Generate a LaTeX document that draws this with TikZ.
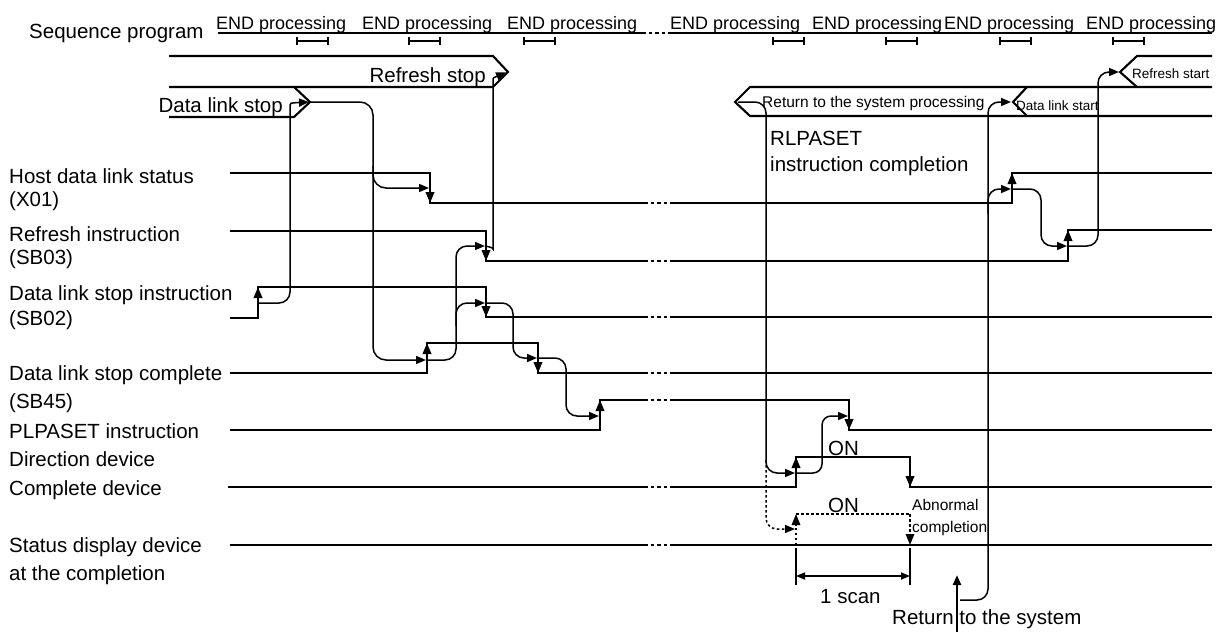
\documentclass[tikz,border=0pt]{standalone}
\usepackage{fontspec}
\setmainfont{Liberation Sans}
\usetikzlibrary{arrows.meta}

\newcommand{\lblsize}{\fontsize{20.5}{24}\selectfont}
\newcommand{\procsize}{\fontsize{18}{21}\selectfont}
\newcommand{\notesize}{\fontsize{15.5}{18}\selectfont}
\newcommand{\tagsize}{\fontsize{13.5}{16}\selectfont}

\begin{document}
\begin{tikzpicture}[
    x=1pt, y=-1pt,
    >={Triangle[length=10pt,width=8pt]},
    sig/.style={line width=2.1pt},
    gapline/.style={line width=2.1pt, dash pattern=on 3.5pt off 3pt},
    edgearr/.style={line width=2.1pt, -{Triangle[length=11pt,width=8.5pt]}},
    dotedge/.style={line width=1.6pt, dash pattern=on 2.5pt off 2.5pt, -{Triangle[length=11pt,width=8.5pt]}},
    dotsig/.style={line width=1.6pt, dash pattern=on 2.5pt off 2.5pt},
    conn/.style={line width=1.5pt, rounded corners=11pt, shorten >=1pt, ->},
    dotconn/.style={conn, dash pattern=on 2.5pt off 2.5pt},
    lbl/.style={anchor=base west, inner sep=0pt, font=\lblsize},
    proclbl/.style={anchor=base west, inner sep=0pt, font=\procsize},
    notelbl/.style={anchor=base west, inner sep=0pt, font=\notesize},
    taglbl/.style={anchor=base west, inner sep=0pt, font=\tagsize}
]
\useasboundingbox (0,0) rectangle (1225,632);

% signal names
\node[lbl] (seq) at (29,38) {Sequence program};
\node[lbl] (xone) at (9,183) {Host data link status};
\node[lbl] (xonetag) at (9,206) {(X01)};
\node[lbl] (sbthree) at (9,241) {Refresh instruction};
\node[lbl] (sbthreetag) at (9,264) {(SB03)};
\node[lbl] (sbtwo) at (9,300) {Data link stop instruction};
\node[lbl] (sbtwotag) at (9,325) {(SB02)};
\node[lbl] (sbfive) at (9,380) {Data link stop complete};
\node[lbl] (sbfivetag) at (9,408) {(SB45)};
\node[lbl] (pl) at (9,438) {PLPASET instruction};
\node[lbl] (pldir) at (9,466) {Direction device};
\node[lbl] (cd) at (9,495) {Complete device};
\node[lbl] (sd) at (9,552) {Status display device};
\node[lbl] (sdtag) at (9,580) {at the completion};

% END processing
\node[proclbl] (proc1) at (216,29) {END processing};
\node[proclbl] (proc2) at (362,29) {END processing};
\node[proclbl] (proc3) at (507,29) {END processing};
\node[proclbl] (proc4) at (670,29) {END processing};
\node[proclbl] (proc5) at (812,29) {END processing};
\node[proclbl] (proc6) at (944,29) {END processing};
\node[proclbl] (proc7) at (1086,29) {END processing};

\draw[sig] (218,33) -- (642,33);
\draw[gapline] (642,33) -- (672,33);
\draw[sig] (672,33) -- (1212,33);

\draw[sig] (297,37) -- (297,45) (297,41) -- (328,41) (328,37) -- (328,45);
\draw[sig] (409,37) -- (409,45) (409,41) -- (440,41) (440,37) -- (440,45);
\draw[sig] (524,37) -- (524,45) (524,41) -- (555,41) (555,37) -- (555,45);
\draw[sig] (773,37) -- (773,45) (773,41) -- (804,41) (804,37) -- (804,45);
\draw[sig] (886,37) -- (886,45) (886,41) -- (917,41) (917,37) -- (917,45);
\draw[sig] (1000,37) -- (1000,45) (1000,41) -- (1031,41) (1031,37) -- (1031,45);
\draw[sig] (1113,37) -- (1113,45) (1113,41) -- (1144,41) (1144,37) -- (1144,45);

% system state bands
\draw[sig] (169,56) -- (493,56) -- (508,72) -- (493,87) -- (169,87);
\draw[sig] (169,117) -- (294,117) -- (310,102) -- (294,87);
\node[lbl, anchor=base east] (rfstoplbl) at (486,82) {Refresh stop};
\node[lbl, anchor=base east] (dlstoplbl) at (283,112) {Data link stop};

\draw[sig] (1212,87) -- (750,87) -- (735,102) -- (750,116) -- (1212,116);
\draw[sig] (1027,87) -- (1013,102) -- (1027,116);
\draw[sig] (1212,56) -- (1137,56) -- (1120,72) -- (1137,87);
\node[notelbl] (sysretlbl) at (762,107) {Return to the system processing};
\node[taglbl] (dlstartlbl) at (1016,110) {Data link start};
\node[taglbl] (rfstartlbl) at (1132,78) {Refresh start};

\node[lbl] (rlp) at (770,145) {RLPASET};
\node[lbl] (rlpdone) at (770,171) {instruction completion};

% waveforms
\draw[sig] (230,173) -- (430,173) -- (430,203) -- (644,203);
\draw[gapline] (644,203) -- (674,203);
\draw[sig] (674,203) -- (1012,203) -- (1012,173) -- (1212,173);

\draw[sig] (230,231) -- (486,231) -- (486,261) -- (644,261);
\draw[gapline] (644,261) -- (674,261);
\draw[sig] (674,261) -- (1068,261) -- (1068,230) -- (1212,230);

\draw[sig] (230,318) -- (258,318) -- (258,287) -- (486,287) -- (486,317) -- (644,317);
\draw[gapline] (644,317) -- (674,317);
\draw[sig] (674,317) -- (1212,317);

\draw[sig] (230,373) -- (427,373) -- (427,343) -- (538,343) -- (538,373) -- (644,373);
\draw[gapline] (644,373) -- (674,373);
\draw[sig] (674,373) -- (1212,373);

\draw[sig] (230,430) -- (600,430) -- (600,400) -- (644,400);
\draw[gapline] (644,400) -- (674,400);
\draw[sig] (674,400) -- (849,400) -- (849,430) -- (1212,430);

\draw[sig] (228,487) -- (644,487);
\draw[gapline] (644,487) -- (674,487);
\draw[sig] (674,487) -- (796,487) -- (796,457) -- (910,457) -- (910,487) -- (1212,487);

\draw[sig] (230,545) -- (644,545);
\draw[gapline] (644,545) -- (674,545);
\draw[sig] (674,545) -- (1212,545);
\draw[dotsig] (796,514) -- (910,514);

% edges
\draw[edgearr] (258,318) -- (258,287);
\draw[edgearr] (430,173) -- (430,203);
\draw[edgearr] (427,373) -- (427,343);
\draw[edgearr] (486,231) -- (486,261);
\draw[edgearr] (486,287) -- (486,317);
\draw[edgearr] (538,343) -- (538,373);
\draw[edgearr] (600,430) -- (600,400);
\draw[edgearr] (796,487) -- (796,457);
\draw[edgearr] (849,400) -- (849,430);
\draw[edgearr] (910,457) -- (910,487);
\draw[edgearr] (1012,203) -- (1012,173);
\draw[edgearr] (1068,261) -- (1068,230);
\draw[dotedge] (796,545) -- (796,514);
\draw[dotedge] (910,514) -- (910,545);

\node[lbl] (cdon) at (828,455) {ON};
\node[lbl] (sdon) at (828,512) {ON};
\node[notelbl] (abn) at (912,510) {Abnormal};
\node[notelbl] (abndone) at (912,532) {completion};

% connection points
\coordinate (dlstop) at (310,102);
\coordinate (rfstop) at (507,72);
\coordinate (sysret) at (738,102);
\coordinate (dlstart) at (1012,102);
\coordinate (rfstart) at (1120,72);
\coordinate (sbtwoon) at (258,303);
\coordinate (sbtwooff) at (486,303);
\coordinate (sbthreeoff) at (486,246);
\coordinate (sbthreeon) at (1068,246);
\coordinate (xoneoff) at (430,188);
\coordinate (xoneon) at (1012,189);
\coordinate (sbfiveon) at (427,360);
\coordinate (sbfiveoff) at (538,358);
\coordinate (plon) at (600,416);
\coordinate (ploff) at (849,416);
\coordinate (cdup) at (796,473);
\coordinate (sdup) at (796,529);
\coordinate (retsys) at (960,600);
\coordinate (dlbranch) at (373,166);
\coordinate (fivebranch) at (456,326);
\coordinate (cdbranch) at (766,460);
\coordinate (retbranch) at (988,214);

% causes
\draw[conn] (sbtwoon) -| (290,116) .. controls (290,103) .. (dlstop);
\draw[conn, rounded corners=13pt] (dlstop) -| (373,360) -- (sbfiveon);
\draw[conn, rounded corners=13pt] (dlbranch) |- (xoneoff);
\draw[conn] (sbfiveon) -| (456,246) -- (sbthreeoff);
\draw[conn] (fivebranch) |- (sbtwooff);
\draw[conn] (sbthreeoff) .. controls (493,248) .. (493,238) -- (493,90) .. controls (493,78) .. (rfstop);
\draw[conn] (sbtwooff) -| (513,358) -- (sbfiveoff);
\draw[conn] (sbfiveoff) -| (566,416) -- (plon);
\draw[conn] (sysret) -| (766,473) -- (cdup);
\draw[dotconn] (cdbranch) |- (sdup);
\draw[conn, rounded corners=9pt] (cdup) -| (822,416) -- (ploff);
\draw[conn] (retsys) -| (988,102) -- (dlstart);
\draw[conn] (retbranch) |- (xoneon);
\draw[conn] (xoneon) -| (1041,246) -- (sbthreeon);
\draw[conn] (sbthreeon) -| (1098,72) -- (rfstart);

% one scan
\draw[line width=1.6pt] (796,548) -- (796,585) (910,548) -- (910,585);
\draw[line width=1.6pt, {Triangle[length=9pt,width=7pt]}-{Triangle[length=9pt,width=7pt]}] (796,576) -- (910,576);
\node[lbl] (scan) at (820,603) {1 scan};

\draw[line width=2.3pt, ->] (957,632) -- (957,575);
\node[lbl] (retlbl) at (892,624) {Return to the system};

\end{tikzpicture}
\end{document}
